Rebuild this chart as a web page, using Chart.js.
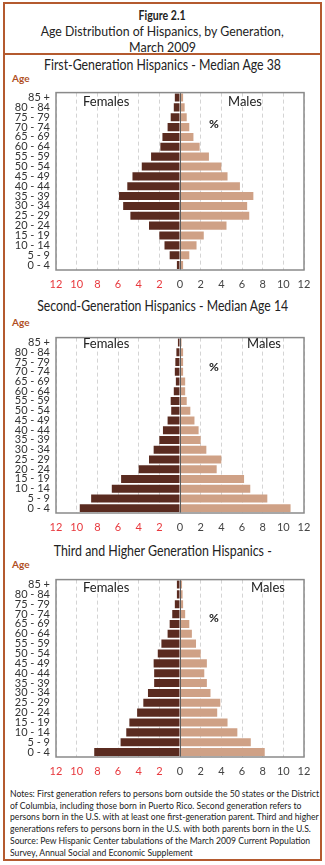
<!DOCTYPE html>
<html>
<head>
<meta charset="utf-8">
<script src="https://cdn.jsdelivr.net/npm/chart.js@4"></script>
<style>
    body { margin: 0; background: #fff; font-family: Lato, "Open Sans", sans-serif; color: #222; }
    #page { position: relative; width: 325px; height: 865px; overflow: hidden; }
    #frame { position: absolute; left: 3px; top: 2px; width: 315px; height: 855px; border: 2px solid #b45a2f; }
    #sep { position: absolute; left: 3px; top: 53px; width: 319px; height: 2px; background: #b45a2f; }
    .txt { position: absolute; white-space: nowrap; }
    .head { left: 0; width: 325px; text-align: center; font-size: 14px; }
    .head span { display: inline-block; transform-origin: 50% 50%; }
    .age { left: 12px; font-size: 10px; font-weight: bold; color: #b0501f; }
    .sex { font-size: 13px; color: #222; }
    .pct { font-size: 12px; font-weight: bold; color: #222; }
    canvas { position: absolute; left: 0; }
    #notes { position: absolute; left: 10px; top: 788px; font-size: 10px; line-height: 11.6px; color: #222;
             white-space: nowrap; display: inline-block; transform-origin: 0 0; }
</style>
</head>
<body>
<div id="page">
    <div id="frame"></div>
    <div id="sep"></div>
    <div class="txt head" style="top:6px;font-weight:bold;"><span data-w="47">Figure 2.1</span></div>
    <div class="txt head" style="top:22px;"><span data-w="243">Age Distribution of Hispanics, by Generation,</span></div>
    <div class="txt head" style="top:38px;"><span data-w="67">March 2009</span></div>

    <div class="txt head" style="top:56px;font-size:14.5px;"><span data-w="237">First-Generation Hispanics - Median Age 38</span></div>
    <div class="txt age" style="top:72px;">Age</div>
    <canvas id="gen1" width="325" height="216" style="top:80px;"></canvas>
    <div class="txt sex" style="left:83px;top:93px;">Females</div>
    <div class="txt sex" style="left:228px;top:93px;">Males</div>
    <div class="txt pct" style="left:209px;top:116px;">%</div>

    <div class="txt head" style="top:297px;font-size:14.5px;"><span data-w="251">Second-Generation Hispanics - Median Age 14</span></div>
    <div class="txt age" style="top:316px;">Age</div>
    <canvas id="gen2" width="325" height="214" style="top:325px;"></canvas>
    <div class="txt sex" style="left:83px;top:335px;">Females</div>
    <div class="txt sex" style="left:247px;top:335px;">Males</div>
    <div class="txt pct" style="left:209px;top:359px;">%</div>

    <div class="txt head" style="top:542px;font-size:14.5px;"><span data-w="218">Third and Higher Generation Hispanics -</span></div>
    <div class="txt age" style="top:558px;">Age</div>
    <canvas id="gen3" width="325" height="216" style="top:567px;"></canvas>
    <div class="txt sex" style="left:83px;top:579px;">Females</div>
    <div class="txt sex" style="left:251px;top:579px;">Males</div>
    <div class="txt pct" style="left:209px;top:610px;">%</div>

    <div id="notes" data-w="309">
        Notes: First generation refers to persons born outside the 50 states or the District<br>
        of Columbia, including those born in Puerto Rico. Second generation refers to<br>
        persons born in the U.S. with at least one first-generation parent. Third and higher<br>
        generations refers to persons born in the U.S. with both parents born in the U.S.<br>
        <div style="height:1px"></div>
        Source: Pew Hispanic Center tabulations of the March 2009 Current Population<br>
        Survey, Annual Social and Economic Supplement
    </div>
</div>

<script>
// Age groups, oldest at the top
const ageGroups = ['85 +', '80 - 84', '75 - 79', '70 - 74', '65 - 69', '60 - 64', '55 - 59', '50 - 54',
    '45 - 49', '40 - 44', '35 - 39', '30 - 34', '25 - 29', '20 - 24', '15 - 19', '10 - 14', '5 - 9', '0 - 4'];

// Percent of each generation (females drawn to the left)
const firstGenFemales = [0.5, 0.6, 0.9, 1.2, 1.7, 1.9, 2.8, 3.7, 4.6, 5.1, 5.9, 5.5, 4.8, 3.0, 2.0, 1.5, 1.0, 0.3];
const firstGenMales = [0.3, 0.45, 0.65, 0.9, 1.3, 1.9, 2.8, 4.0, 4.6, 5.8, 7.1, 6.5, 6.7, 4.5, 2.3, 1.6, 0.9, 0.3];

const secondGenFemales = [0.2, 0.35, 0.45, 0.5, 0.4, 0.6, 0.9, 0.85, 1.2, 1.65, 2.0, 2.55, 3.0, 4.0, 5.7, 6.6, 8.6, 9.7];
const secondGenMales = [0.15, 0.3, 0.3, 0.3, 0.5, 0.5, 0.65, 1.0, 1.4, 1.8, 2.0, 2.55, 4.0, 3.55, 6.2, 6.8, 8.45, 10.7];

const thirdGenFemales = [0.3, 0.3, 0.5, 0.75, 1.0, 1.2, 1.8, 2.15, 2.55, 2.5, 2.5, 3.1, 3.55, 4.15, 4.9, 5.2, 5.75, 8.3];
const thirdGenMales = [0.2, 0.25, 0.3, 0.5, 0.9, 1.15, 1.55, 2.0, 2.6, 2.35, 2.6, 2.95, 3.9, 3.6, 4.6, 5.55, 6.85, 8.2];

const xMin = -12;
const xMax = 12;
const xStep = 2;

const femaleColor = '#5a2b20';
const maleColor = '#cfa186';
const tickFont = { family: 'Lato, "Open Sans", sans-serif', size: 11 };

// The original type is a narrow face, so squeeze text blocks to the widths seen
function fitText() {
    document.querySelectorAll('[data-w]').forEach(el => {
        el.style.transform = 'none';
        const w = el.getBoundingClientRect().width;
        const k = parseFloat(el.dataset.w) / w;
        el.style.transform = `scaleX(${k})`;
    });
}
fitText();
if (document.fonts) document.fonts.ready.then(fitText);

// Plot frame and the solid zero line drawn over the bars
const framePlugin = {
    id: 'frame',
    afterDatasetsDraw(chart) {
        const { ctx, chartArea, scales } = chart;
        const x0 = scales.x.getPixelForValue(0);
        ctx.save();
        ctx.strokeStyle = '#5c5c5c';
        ctx.lineWidth = 1;
        ctx.beginPath();
        ctx.moveTo(Math.round(x0) + 0.5, chartArea.top);
        ctx.lineTo(Math.round(x0) + 0.5, chartArea.bottom);
        ctx.stroke();
        ctx.strokeStyle = '#8a8a8a';
        ctx.lineWidth = 1.5;
        ctx.strokeRect(chartArea.left, chartArea.top, chartArea.right - chartArea.left, chartArea.bottom - chartArea.top);
        ctx.restore();
    }
};

function makePyramid(canvasId, females, males) {
    const ctx = document.getElementById(canvasId).getContext('2d');

    return new Chart(ctx, {
        type: 'bar',
        data: {
            labels: ageGroups,
            datasets: [
                {
                    label: 'Females',
                    data: females.map(v => -v),
                    backgroundColor: femaleColor,
                    barPercentage: 0.82,
                    categoryPercentage: 1.0
                },
                {
                    label: 'Males',
                    data: males,
                    backgroundColor: maleColor,
                    barPercentage: 0.82,
                    categoryPercentage: 1.0
                }
            ]
        },
        options: {
            indexAxis: 'y',
            responsive: false,
            animation: false,
            layout: { padding: { top: 5, right: 21, left: 0, bottom: 0 } },
            scales: {
                x: {
                    stacked: true,
                    min: xMin,
                    max: xMax,
                    afterFit: scale => { scale.height = 26; },
                    ticks: {
                        stepSize: xStep,
                        padding: 8,
                        font: tickFont,
                        color: c => c.tick.value < 0 ? '#e8383d' : '#444',
                        callback: value => Math.abs(value)
                    },
                    grid: {
                        color: '#d4d4d4',
                        drawTicks: false
                    },
                    border: { display: false, dash: [4, 3] }
                },
                y: {
                    stacked: true,
                    afterFit: scale => { scale.width = 56; },
                    ticks: {
                        padding: 6,
                        font: tickFont,
                        color: '#333',
                        autoSkip: false
                    },
                    grid: { display: false, drawTicks: false },
                    border: { display: false }
                }
            },
            plugins: {
                legend: { display: false },
                tooltip: { enabled: false }
            }
        },
        plugins: [framePlugin]
    });
}

makePyramid('gen1', firstGenFemales, firstGenMales);
makePyramid('gen2', secondGenFemales, secondGenMales);
makePyramid('gen3', thirdGenFemales, thirdGenMales);
</script>
</body>
</html>
